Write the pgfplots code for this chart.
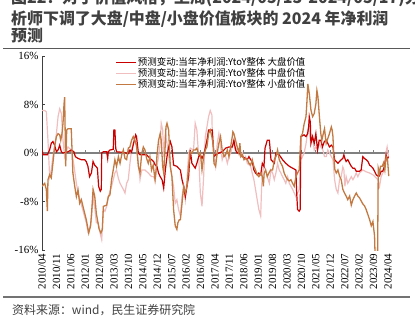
\documentclass[border=0pt]{standalone}
\usepackage{pgfplots}
\pgfplotsset{compat=1.18}
\usepackage{fontspec}
\setmainfont{Liberation Serif}
\newfontfamily\cjk{Noto Sans CJK SC}
\definecolor{cred}{RGB}{200,0,0}
\definecolor{cpink}{RGB}{240,190,190}
\definecolor{cbrown}{RGB}{194,122,66}
\definecolor{ctitle}{RGB}{64,64,64}
\begin{document}
\begin{tikzpicture}
\useasboundingbox (0,0) rectangle (415bp,-327bp);
\node[anchor=base west, text=ctitle, font=\cjk\bfseries\fontsize{16}{16}\selectfont, inner sep=0pt] at (11bp,-3.5bp) {图22：对于价值风格，上周(2024/05/13-2024/05/17)分};
\node[anchor=base west, text=ctitle, font=\cjk\bfseries\fontsize{16}{16}\selectfont, inner sep=0pt] at (11bp,-24.5bp) {析师下调了大盘/中盘/小盘价值板块的 2024 年净利润};
\node[anchor=base west, text=ctitle, font=\cjk\bfseries\fontsize{16}{16}\selectfont, inner sep=0pt] at (11bp,-41.5bp) {预测};
\draw[line width=1.6bp, color=black!65] (3bp,-48.3bp) -- (410bp,-48.3bp);
\draw[line width=1.4bp, color=black!55] (3bp,-297bp) -- (410bp,-297bp);
\node[anchor=base west, text=ctitle, font=\cjk\fontsize{12}{12}\selectfont, inner sep=0pt] at (12bp,-314bp) {资料来源：wind，民生证券研究院};
\begin{axis}[
  at={(42bp,-250bp)}, anchor=south west,
  scale only axis, width=348bp, height=194bp,
  xmin=0, xmax=169, ymin=-16, ymax=16,
  axis y line*=left, axis x line*=bottom,
  x axis line style={draw=none},
  y axis line style={color=black!75, line width=0.8bp},
  xtick={0,7,...,168},
  xticklabels={2010/04,2010/11,2011/06,2012/01,2012/08,2013/03,2013/10,2014/05,2014/12,2015/07,2016/02,2016/09,2017/04,2017/11,2018/06,2019/01,2019/08,2020/03,2020/10,2021/05,2021/12,2022/07,2023/02,2023/09,2024/04},
  xtick style={draw=none},
  x tick label style={rotate=90, anchor=east, font=\fontsize{11}{11}\selectfont},
  ytick={-16,-8,0,8,16},
  yticklabels={-16\%,-8\%,0\%,8\%,16\%},
  y tick label style={font=\fontsize{11}{11}\selectfont},
  ytick style={color=black!75, line width=0.8bp},
  tick align=inside, major tick length=3bp,
  legend style={at={(axis description cs:0.211,0.995)}, anchor=north west, draw=none, fill=none, inner sep=0pt, row sep=0bp,
    font=\cjk\fontsize{9.5}{9.5}\selectfont, nodes={inner sep=1bp, text height=7.4bp, text depth=1.6bp}},
  legend cell align=left,
  legend image code/.code={\draw[#1] (0bp,0bp) -- (20bp,0bp);},
]
\draw[color=black!50, line width=1.2bp] (axis cs:0,0) -- (axis cs:168,0);
\pgfplotsinvokeforeach{0,7,...,168}{\draw[color=black!50, line width=0.8bp] (axis cs:#1,0) -- (axis cs:#1,0.5);}
\addlegendimage{cred, line width=1.3bp}
\addlegendentry{预测变动:当年净利润:YtoY整体 大盘价值}
\addlegendimage{cpink, line width=1.3bp}
\addlegendentry{预测变动:当年净利润:YtoY整体 中盘价值}
\addlegendimage{cbrown, line width=1.3bp}
\addlegendentry{预测变动:当年净利润:YtoY整体 小盘价值}
% mid-cap (pink)
\addplot[cpink, line width=1.2bp, forget plot] coordinates {
(0,7.0)(1.3,7.0)(2.1,6.8)(2.9,2.1)(3.7,-3.9)(4.5,-2.8)(5.3,-0.6)(6.1,1.0)(7.0,3.2)(7.8,6.0)(8.6,7.3)(9.4,6.5)(10.2,2.1)(11.0,-0.6)(11.5,0)(12.6,1.0)(14.2,0.5)(15.5,-2.0)(16.7,-5.0)(17.5,-6.5)(19.1,-8.5)(20.7,-10.5)(21.5,-11.5)(22.3,-13.0)(23.1,-12.5)(24.0,-11.0)(24.8,-7.0)(25.6,-9.0)(26.4,-11.5)(27.3,-11.5)(28.2,-13.2)(29.0,-14.3)(29.8,-9.3)(30.6,-9.6)(31.4,-8.8)(32.2,-7.2)(33.8,-5.5)(35.4,-3.3)(36.2,-2.8)(37.1,-4.2)(37.9,-5.0)(39.5,-6.0)(40.3,-6.6)(41.1,-5.0)(41.9,-4.4)(42.7,-1.7)(43.5,0.5)(44.3,1.6)(45.1,2.1)(45.9,1.0)(46.8,-1.7)(47.6,-4.4)(48.4,-2.8)(50.0,-2.8)(51.6,-3.3)(53.2,-3.9)(54.2,-3.9)(55.0,-4.6)(55.8,-2.2)(56.6,-0.6)(57.4,1.6)(57.9,4.9)(58.6,3.8)(59.1,-0.6)(59.9,3.2)(60.7,1.6)(61.5,-0.6)(62.3,-2.2)(63.1,-3.9)(63.9,-5.5)(64.7,-8.3)(65.5,-7.7)(66.3,-9.3)(67.2,-10.4)(68.0,-7.2)(68.8,-5.5)(69.6,-7.7)(70.4,-4.4)(71.2,-0.1)(72.0,0.8)(73.6,0.5)(74.4,4.9)(75.2,3.8)(76.1,-0.6)(76.9,-6.6)(77.7,-8.8)(78.5,-3.9)(79.3,2.7)(80.1,4.3)(80.9,6.0)(81.7,7.0)(82.5,6.3)(82.7,3.2)(83.5,-0.6)(84.3,-2.2)(85.1,1.6)(85.9,3.2)(86.7,1.0)(87.5,-1.1)(88.4,0)(89.2,-0.6)(90.0,-1.7)(90.8,-0.6)(91.6,0)(92.4,1.0)(93.2,1.6)(94.0,0.5)(94.8,0.8)(95.6,0.5)(96.4,-0.6)(97.3,0)(98.1,-1.1)(98.9,-0.6)(99.7,-1.7)(101.3,-2.2)(102.1,-3.3)(102.9,-4.4)(103.7,-6.0)(104.5,-7.7)(105.3,-9.3)(106.2,-10.4)(106.6,-6.0)(107.0,-3.3)(107.8,-2.2)(108.6,-2.8)(109.4,-3.9)(110.4,-5.0)(111.2,-2.8)(112.0,-3.3)(112.8,-4.4)(113.6,-3.3)(114.4,-1.7)(115.2,-2.8)(116.0,-3.3)(116.8,-3.9)(117.6,-4.4)(118.4,-5.0)(119.3,-3.9)(120.1,-5.0)(120.9,-5.5)(121.7,-6.0)(122.5,-6.6)(123.3,-7.2)(124.1,-6.6)(124.9,-6.0)(125.7,-1.2)(126.5,-0.6)(127.3,0)(128.2,1.5)(129.0,3.5)(129.5,4.5)(129.8,3.2)(130.6,1.6)(131.4,2.7)(132.2,0.5)(133.0,1.0)(133.8,0.5)(134.6,1.6)(135.4,1.0)(136.4,0.5)(137.2,-0.6)(138.0,-0.6)(138.8,0.5)(139.6,0)(140.5,-0.6)(141.3,-1.1)(142.1,-4.4)(142.9,-6.0)(143.7,-6.6)(144.5,-4.4)(145.3,-3.9)(146.1,-2.3)(146.6,-2.8)(147.1,-5.5)(147.7,-3.9)(148.5,-5.0)(149.4,-4.4)(150.2,-3.9)(151.0,-4.4)(151.8,-3.9)(152.6,-3.3)(153.4,-3.9)(154.2,-3.3)(155.8,-2.8)(157.4,-3.1)(159.1,-3.3)(160.7,-3.6)(162.3,-4.1)(163.1,-4.4)(163.9,-5.5)(164.7,-3.9)(165.5,-3.3)(166.3,-2.8)(167.1,0.2)(167.6,1.0)(168.3,-0.6)
};
% large-cap (red)
\addplot[cred, line width=1.2bp, forget plot] coordinates {
(0,0.5)(0.5,-0.3)(2.6,-0.3)(3.7,0.5)(4.5,1.6)(5.3,1.9)(6.1,1.3)(7.0,0.2)(7.8,0.5)(8.6,1.3)(9.4,0.2)(10.2,0)(12.6,0.2)(14.2,0.5)(15.5,0.2)(16.2,-0.6)(17.5,-0.9)(19.1,-1.1)(20.7,-1.1)(21.5,-1.4)(22.3,-2.2)(23.1,-3.9)(24.0,-3.3)(24.8,-1.4)(25.6,-2.0)(26.9,-2.5)(27.5,-5.5)(28.3,-6.3)(28.8,-6.0)(29.0,0)(29.8,0.2)(31.4,0.2)(31.9,-0.9)(32.2,0.2)(33.0,0.5)(34.6,0.6)(34.9,3.8)(35.4,3.8)(35.8,0.8)(36.2,0.2)(39.5,0.1)(41.9,-0.1)(42.7,0.5)(43.5,0.1)(44.8,2.1)(45.5,3.0)(45.9,2.7)(46.8,0)(47.6,-0.3)(50.8,-0.3)(51.6,-0.6)(53.2,-1.1)(54.2,-1.4)(55.0,-2.0)(55.8,-2.2)(56.6,-3.3)(57.4,-3.9)(58.3,-4.4)(59.1,-5.8)(59.9,-2.8)(60.7,-0.6)(61.5,1.0)(62.3,1.9)(63.1,1.0)(63.9,-2.0)(65.5,-2.2)(66.3,-2.5)(67.2,-2.8)(68.0,-4.4)(68.8,-5.5)(69.6,-7.2)(70.4,-5.5)(71.2,-3.9)(72.0,0.5)(72.8,-1.7)(74.4,-2.5)(75.2,-1.7)(76.1,-0.6)(76.9,-0.3)(77.7,-0.9)(78.5,-0.3)(79.3,0.8)(80.1,2.1)(80.9,3.8)(82.7,3.8)(83.0,2.1)(83.5,-0.6)(84.3,-0.3)(85.9,0)(87.5,0.2)(89.2,0.8)(90.8,1.0)(92.4,1.0)(93.2,2.1)(94.0,0.5)(94.8,0)(95.6,0.2)(96.4,-0.3)(97.3,-0.6)(98.9,-0.9)(99.7,-1.1)(100.5,-0.6)(101.3,-1.1)(102.1,-1.4)(102.9,-2.8)(103.7,-3.3)(104.5,-3.6)(105.3,-3.3)(106.2,-3.6)(107.0,-1.7)(107.8,-2.2)(108.3,0.8)(109.4,2.1)(110.4,2.1)(110.7,1.0)(111.2,-1.1)(112.8,-1.7)(113.6,0)(115.2,-0.3)(116.8,-1.1)(118.4,-1.7)(120.1,-2.2)(121.7,-2.5)(123.3,-2.8)(123.6,-6.0)(124.1,-9.3)(124.9,-9.6)(125.4,-9.3)(125.7,2.7)(127.3,3.0)(128.2,2.7)(129.0,3.2)(129.5,4.3)(129.8,6.0)(130.3,5.1)(130.6,1.6)(131.4,2.7)(132.2,1.6)(133.0,3.2)(133.8,0.5)(134.6,2.1)(135.4,2.1)(136.2,1.0)(137.1,1.9)(138.0,2.1)(138.8,1.6)(139.6,1.0)(140.5,1.3)(141.3,1.0)(142.1,-1.1)(143.7,-1.7)(144.5,-1.4)(145.3,-1.1)(146.1,-0.9)(146.6,-0.3)(147.1,-0.9)(147.7,-1.4)(148.5,-1.1)(149.4,-1.7)(150.2,-2.2)(151.0,-2.5)(151.8,-2.5)(152.6,-3.0)(154.2,-3.0)(155.0,-2.8)(155.8,-0.6)(156.6,-0.9)(157.4,-1.1)(158.3,-1.4)(159.1,-2.0)(159.9,-2.2)(160.7,-2.5)(161.5,-3.0)(162.3,-3.6)(163.1,-3.8)(163.9,-3.8)(164.7,-3.0)(165.5,-3.0)(166.3,-2.2)(167.1,-0.3)(167.6,-1.1)(168.3,-0.6)
};
% small-cap (brown)
\addplot[cbrown, line width=1.3bp, forget plot] coordinates {
(0,-5.5)(1.3,-5.0)(2.1,-6.0)(2.6,-9.6)(2.9,-4.4)(3.7,-3.6)(4.5,-4.1)(5.3,-1.7)(6.1,1.0)(7.0,2.7)(7.8,3.2)(8.6,3.0)(9.1,2.1)(9.7,3.2)(10.2,4.9)(10.7,8.1)(11.0,9.2)(11.5,-2.2)(12.0,3.8)(12.6,4.0)(14.2,4.0)(15.0,-3.3)(15.9,-5.5)(16.7,-7.2)(17.5,-6.1)(18.3,-8.3)(19.1,-7.7)(19.9,-8.8)(20.7,-9.9)(21.5,-11.0)(22.7,-13.2)(23.6,-12.0)(24.3,-8.8)(24.8,-6.0)(25.6,-7.1)(26.4,-10.0)(27.7,-12.5)(28.6,-13.2)(29.3,-12.6)(29.8,-8.8)(31.4,-8.6)(32.2,-7.2)(33.0,-6.9)(33.8,-4.4)(34.6,-2.8)(35.4,-1.1)(36.2,-2.2)(37.1,-0.6)(37.9,-1.7)(38.7,-0.3)(39.5,0.5)(40.3,-0.9)(41.1,-1.1)(41.9,0.8)(42.7,1.0)(43.5,2.1)(44.3,2.7)(45.1,2.1)(45.9,1.3)(46.8,-2.2)(47.6,-3.3)(48.4,-0.1)(49.2,1.0)(50.0,0.5)(50.8,-0.9)(51.6,-1.7)(52.4,-0.6)(53.2,-2.8)(54.0,-2.0)(54.9,-4.4)(55.4,-2.8)(55.8,-0.6)(56.6,2.1)(57.4,3.2)(57.9,2.1)(58.6,-2.2)(59.1,-3.3)(59.9,1.6)(60.2,4.3)(60.7,4.9)(61.5,3.8)(62.3,-2.2)(63.1,-3.9)(63.9,-9.3)(64.7,-12.0)(65.5,-12.6)(66.0,-11.5)(66.7,-11.0)(67.2,-11.0)(68.0,-8.3)(68.8,-5.5)(69.6,-6.6)(70.4,-5.5)(71.2,-2.2)(72.0,0.2)(72.8,0)(73.6,0.5)(74.4,0.5)(75.2,0.8)(76.1,-0.3)(76.9,0)(77.7,-2.8)(78.5,-0.6)(79.3,0.5)(80.1,1.0)(80.9,3.2)(81.7,3.8)(82.5,2.7)(83.3,1.0)(83.5,-1.7)(84.3,-2.2)(85.1,0)(85.9,1.6)(86.7,2.7)(87.5,0.5)(88.4,-0.6)(89.2,-0.3)(90.0,0.5)(90.8,-0.6)(91.6,1.0)(92.4,2.7)(92.7,3.5)(93.2,3.2)(94.0,2.1)(94.8,1.0)(95.6,0)(96.1,1.6)(96.6,-0.6)(97.3,-0.3)(98.1,-1.1)(98.9,-0.9)(99.7,-1.1)(100.5,-1.7)(101.3,-2.0)(102.1,-1.1)(102.9,-2.2)(103.7,-2.8)(104.5,-3.6)(105.3,-3.9)(106.2,-3.3)(107.0,-3.9)(107.5,-5.5)(107.9,-3.3)(108.6,-2.8)(109.4,-3.9)(110.2,-3.3)(111.0,-2.8)(112.0,-2.8)(112.8,-1.1)(113.6,-0.6)(114.4,0.5)(115.2,-1.1)(116.0,-1.7)(116.8,-2.2)(117.6,-3.3)(118.4,-3.9)(119.3,-4.4)(120.1,-4.6)(120.9,-4.4)(121.7,-5.0)(122.5,-5.5)(123.3,-3.9)(124.1,-3.3)(124.9,-2.8)(125.7,2.7)(126.5,3.2)(127.3,4.8)(128.2,6.0)(128.6,8.1)(129.1,11.4)(129.8,9.8)(130.6,7.1)(131.4,6.0)(132.2,6.5)(133.0,8.1)(133.5,10.3)(134.0,9.3)(134.6,6.5)(135.4,3.2)(135.9,2.1)(136.6,3.2)(137.2,4.0)(138.0,1.6)(139.6,3.2)(140.5,4.3)(140.9,3.8)(141.3,2.7)(141.7,-0.6)(142.2,-2.7)(142.9,-3.3)(143.7,-2.8)(144.5,-3.8)(145.3,-4.4)(146.1,-6.0)(146.9,-6.6)(147.7,-7.1)(148.5,-7.7)(149.4,-7.1)(150.2,-8.6)(151.0,-7.7)(151.8,-7.1)(152.6,-6.6)(153.4,-7.1)(154.2,-7.4)(155.0,-7.9)(155.8,-8.4)(156.6,-8.7)(157.4,-9.3)(158.3,-10.2)(159.1,-11.0)(159.9,-12.0)(160.7,-11.3)(161.5,-13.7)(162.0,-20)(162.9,-20)(163.3,-2.5)(163.9,-3.3)(164.4,-2.2)(165.2,-2.2)(165.9,-1.6)(166.5,-2.8)(167.1,-0.6)(167.8,-1.1)(168.4,-3.8)
};
\end{axis}
\end{tikzpicture}
\end{document}
